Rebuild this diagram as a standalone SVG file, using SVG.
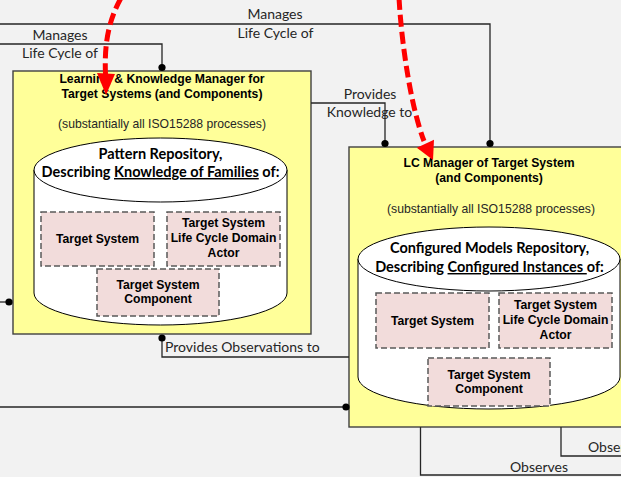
<svg xmlns="http://www.w3.org/2000/svg" width="621" height="477" viewBox="0 0 621 477">
  <style>
    .bg { fill: #f2f2f2; }
    .mgr { fill: #ffff99; stroke: #404040; stroke-width: 1.4; }
    .cyl { fill: #ffffff; stroke: #000000; stroke-width: 1; }
    .item { fill: #f2dcdb; stroke: #595959; stroke-width: 1.5; stroke-dasharray: 6 3; }
    .wire { fill: none; stroke: #262626; stroke-width: 1.3; }
    .dot { fill: #000000; }
    .lbl { font-family: Lato, "Liberation Sans", sans-serif; font-size: 14px; fill: #262626; text-anchor: middle; }
    .ttl { font-family: "Liberation Sans", Arial, sans-serif; font-size: 12.2px; font-weight: bold; fill: #000000; text-anchor: middle; }
    .sub { font-family: "Liberation Sans", Arial, sans-serif; font-size: 12.2px; fill: #262626; text-anchor: middle; }
    .repo { font-family: Lato, "Liberation Sans", sans-serif; font-size: 14.5px; font-weight: bold; fill: #000000; text-anchor: middle; }
    .red { fill: none; stroke: #ff0000; stroke-width: 5; stroke-dasharray: 12 5; }
    .head { fill: #ff0000; }
  </style>

  <rect class="bg" x="0" y="0" width="621" height="477"/>

  <!-- Learning & Knowledge Manager -->
  <g id="learning-manager">
    <rect class="mgr" x="13" y="71" width="298" height="263"/>
    <text class="ttl" x="162" y="83">Learning &amp; Knowledge Manager for</text>
    <text class="ttl" x="162" y="98">Target Systems (and Components)</text>
    <text class="sub" x="162" y="128">(substantially all ISO15288 processes)</text>
  </g>

  <g id="pattern-repository">
    <path class="cyl" d="M 34 170 L 34 293 A 126.5 32 0 0 0 287 293 L 287 170 Z"/>
    <ellipse class="cyl" cx="160.5" cy="170" rx="126.5" ry="32"/>
    <text class="repo" x="160.5" y="159">Pattern Repository,</text>
    <text class="repo" x="160.5" y="177">Describing <tspan text-decoration="underline">Knowledge of Families</tspan> of:</text>
  </g>

  <g id="pattern-target-system">
    <rect class="item" x="41" y="212" width="113" height="54"/>
    <text class="ttl" x="97.5" y="243">Target System</text>
  </g>
  <g id="pattern-domain-actor">
    <rect class="item" x="167" y="212" width="113" height="54"/>
    <text class="ttl" x="223.5" y="227">Target System</text>
    <text class="ttl" x="223.5" y="242">Life Cycle Domain</text>
    <text class="ttl" x="223.5" y="257">Actor</text>
  </g>
  <g id="pattern-component">
    <rect class="item" x="97" y="269" width="122" height="47"/>
    <text class="ttl" x="158" y="289">Target System</text>
    <text class="ttl" x="158" y="303">Component</text>
  </g>

  <!-- LC Manager of Target System -->
  <g id="lc-manager">
    <rect class="mgr" x="349" y="147" width="285" height="280"/>
    <text class="ttl" x="489" y="167">LC Manager of Target System</text>
    <text class="ttl" x="489" y="182">(and Components)</text>
    <text class="sub" x="491" y="213">(substantially all ISO15288 processes)</text>
  </g>

  <g id="configured-repository">
    <path class="cyl" d="M 358 259 L 358 377 A 131 32 0 0 0 620 377 L 620 259 Z"/>
    <ellipse class="cyl" cx="489" cy="259" rx="131" ry="32"/>
    <text class="repo" x="489.5" y="253">Configured Models Repository,</text>
    <text class="repo" x="489.5" y="272">Describing <tspan text-decoration="underline">Configured Instances </tspan>of:</text>
  </g>

  <g id="configured-target-system">
    <rect class="item" x="376" y="293" width="113" height="55"/>
    <text class="ttl" x="432.5" y="325">Target System</text>
  </g>
  <g id="configured-domain-actor">
    <rect class="item" x="499" y="293" width="113" height="55"/>
    <text class="ttl" x="555.5" y="309">Target System</text>
    <text class="ttl" x="555.5" y="324">Life Cycle Domain</text>
    <text class="ttl" x="555.5" y="339">Actor</text>
  </g>
  <g id="configured-component">
    <rect class="item" x="428" y="358" width="122" height="48"/>
    <text class="ttl" x="489" y="379">Target System</text>
    <text class="ttl" x="489" y="393">Component</text>
  </g>

  <!-- Connectors -->
  <g id="connectors">
    <path class="wire" d="M 0 24 H 490 V 143"/>
    <path class="wire" d="M 0 44 H 162 V 67"/>
    <path class="wire" d="M 311 103 H 385 V 143"/>
    <path class="wire" d="M 0 302 H 9"/>
    <path class="wire" d="M 162 338 V 357 H 349"/>
    <path class="wire" d="M 0 407 H 346"/>
    <path class="wire" d="M 420.5 427 V 475 H 621"/>
    <path class="wire" d="M 561 427 V 456 H 621"/>

    <circle class="dot" cx="162" cy="67.5" r="3.6"/>
    <circle class="dot" cx="385" cy="143.5" r="3.6"/>
    <circle class="dot" cx="490" cy="143.5" r="3.6"/>
    <circle class="dot" cx="9" cy="302" r="3.6"/>
    <circle class="dot" cx="162" cy="338" r="3.6"/>
    <circle class="dot" cx="346" cy="407" r="3.6"/>

    <text class="lbl" x="275" y="19">Manages</text>
    <text class="lbl" x="275.5" y="38">Life Cycle of</text>
    <text class="lbl" x="60" y="40">Manages</text>
    <text class="lbl" x="60" y="58">Life Cycle of</text>
    <text class="lbl" x="370" y="99">Provides</text>
    <text class="lbl" x="369.5" y="117">Knowledge to</text>
    <text class="lbl" x="165" y="352" text-anchor="start" style="text-anchor:start">Provides Observations to</text>
    <text class="lbl" x="539" y="471.5">Observes</text>
    <text class="lbl" x="588" y="452" style="text-anchor:start">Observes</text>

    <!-- red dashed arrows -->
    <path class="red" d="M 121 -2 C 110 18, 104 40, 105.5 74"/>
    <polygon class="head" points="97,73 115,74 106,95"/>
    <path class="red" d="M 399 -2 C 402 50, 412 110, 424 141"/>
    <polygon class="head" points="416.8,147.7 434,139.7 433,160"/>
  </g>
</svg>
